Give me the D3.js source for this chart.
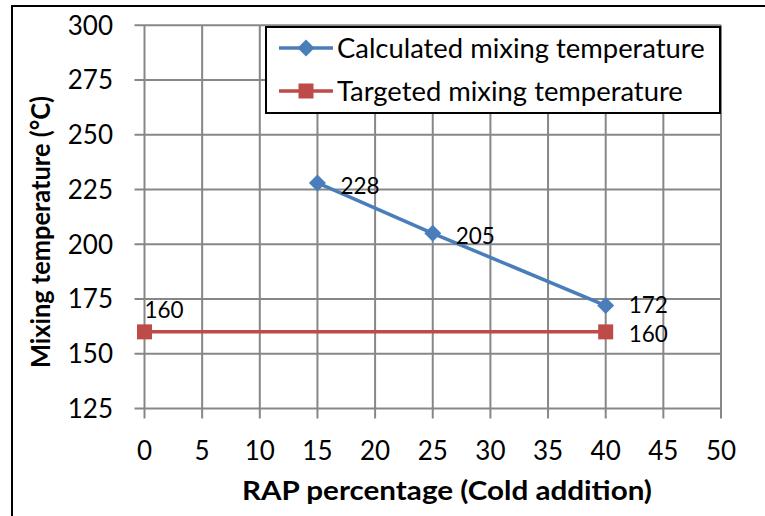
<!DOCTYPE html>
<html><head><meta charset="utf-8">
<script src="https://cdn.jsdelivr.net/npm/d3@7"></script>
<style>body{margin:0;background:#fff}svg{display:block}</style>
</head><body>
<svg id="c" width="765" height="516"></svg>
<script>
const xTicks = [0,5,10,15,20,25,30,35,40,45,50];
const yTicks = [125,150,175,200,225,250,275,300];
const calcX = [15,25,40];
const calcY = [228,205,172];
const targX = [0,40];
const targY = [160,160];
const seriesNames = ["Calculated mixing temperature","Targeted mixing temperature"];
const xTitle = "RAP percentage (Cold addition)";
const yTitle = "Mixing temperature (°C)";

const svg = d3.select("#c");
const font = "Lato, 'Open Sans', sans-serif";
const blue = "#4A7EBB", red = "#BE4B48", grid = "#878787";

svg.append("rect").attr("x",12).attr("y",6).attr("width",800).attr("height",600)
  .attr("fill","none").attr("stroke","#000").attr("stroke-width",2);

const x = d3.scaleLinear().domain([0,50]).range([144.5,721]);
const y = d3.scaleLinear().domain([125,300]).range([408.5,25.3]);

// gridlines
svg.append("g").selectAll("line").data(xTicks).join("line")
  .attr("x1",d=>x(d)).attr("x2",d=>x(d)).attr("y1",y(300)).attr("y2",y(125)+10)
  .attr("stroke",grid).attr("stroke-width",2);
svg.append("g").selectAll("line").data(yTicks).join("line")
  .attr("y1",d=>y(d)).attr("y2",d=>y(d)).attr("x1",x(0)-10).attr("x2",x(50))
  .attr("stroke",grid).attr("stroke-width",2);

// axes labels
svg.append("g").selectAll("text").data(yTicks).join("text")
  .attr("x",113).attr("y",d=>y(d)).attr("dy","0.36em").attr("text-anchor","end")
  .attr("font-family",font).attr("font-size",26).text(d=>d);
svg.append("g").selectAll("text").data(xTicks).join("text")
  .attr("x",d=>x(d)).attr("y",460).attr("text-anchor","middle")
  .attr("font-family",font).attr("font-size",26).text(d=>d);

svg.append("text").attr("x",447).attr("y",500).attr("text-anchor","middle")
  .attr("font-family",font).attr("font-size",26).attr("font-weight","bold")
  .attr("textLength",410).attr("lengthAdjust","spacingAndGlyphs").text(xTitle);
svg.append("text").attr("transform",`translate(50,232) rotate(-90)`)
  .attr("text-anchor","middle").attr("font-family",font).attr("font-size",27)
  .attr("font-weight","bold").attr("textLength",272).attr("lengthAdjust","spacingAndGlyphs").text(yTitle);

const line = d3.line().x(d=>x(d[0])).y(d=>y(d[1]));
const calc = calcX.map((v,i)=>[v,calcY[i]]);
const targ = targX.map((v,i)=>[v,targY[i]]);

svg.append("path").datum(targ).attr("d",line).attr("fill","none").attr("stroke",red).attr("stroke-width",3.5);
svg.append("path").datum(calc).attr("d",line).attr("fill","none").attr("stroke",blue).attr("stroke-width",3.5);

const dia = "M0,-8.5L8.5,0L0,8.5L-8.5,0Z";
svg.append("g").selectAll("path").data(calc).join("path")
  .attr("transform",d=>`translate(${x(d[0])},${y(d[1])})`).attr("d",dia).attr("fill",blue);
svg.append("g").selectAll("rect").data(targ).join("rect")
  .attr("x",d=>x(d[0])-7.5).attr("y",d=>y(d[1])-7.5).attr("width",15).attr("height",15).attr("fill",red);

// data labels
svg.append("g").selectAll("text").data(calc).join("text")
  .attr("x",d=>x(d[0])+23).attr("y",d=>y(d[1])+(d[0]===40?-1:3)).attr("dy","0.36em")
  .attr("font-family",font).attr("font-size",22.5).text(d=>d[1]);
svg.append("g").selectAll("text").data(targ).join("text")
  .attr("x",d=>d[0]===0?x(d[0]):x(d[0])+23)
  .attr("y",d=>d[0]===0?y(d[1])-22:y(d[1])+2).attr("dy","0.36em")
  .attr("font-family",font).attr("font-size",22.5).text(d=>d[1]);

// legend
const lg = svg.append("g");
lg.append("rect").attr("x",266).attr("y",27).attr("width",454).attr("height",86)
  .attr("fill","#fff").attr("stroke","#000").attr("stroke-width",2);
[[blue,"d"],[red,"s"]].forEach((s,i)=>{
  const cy = 48 + i*43;
  lg.append("line").attr("x1",279).attr("x2",333).attr("y1",cy).attr("y2",cy)
    .attr("stroke",s[0]).attr("stroke-width",3.5);
  if(s[1]==="d") lg.append("path").attr("transform",`translate(306,${cy})`).attr("d",dia).attr("fill",s[0]);
  else lg.append("rect").attr("x",298.5).attr("y",cy-7.5).attr("width",15).attr("height",15).attr("fill",s[0]);
  lg.append("text").attr("x",337).attr("y",cy).attr("dy","0.36em")
    .attr("font-family",font).attr("font-size",27.4).text(seriesNames[i]);
});
</script>
</body></html>
